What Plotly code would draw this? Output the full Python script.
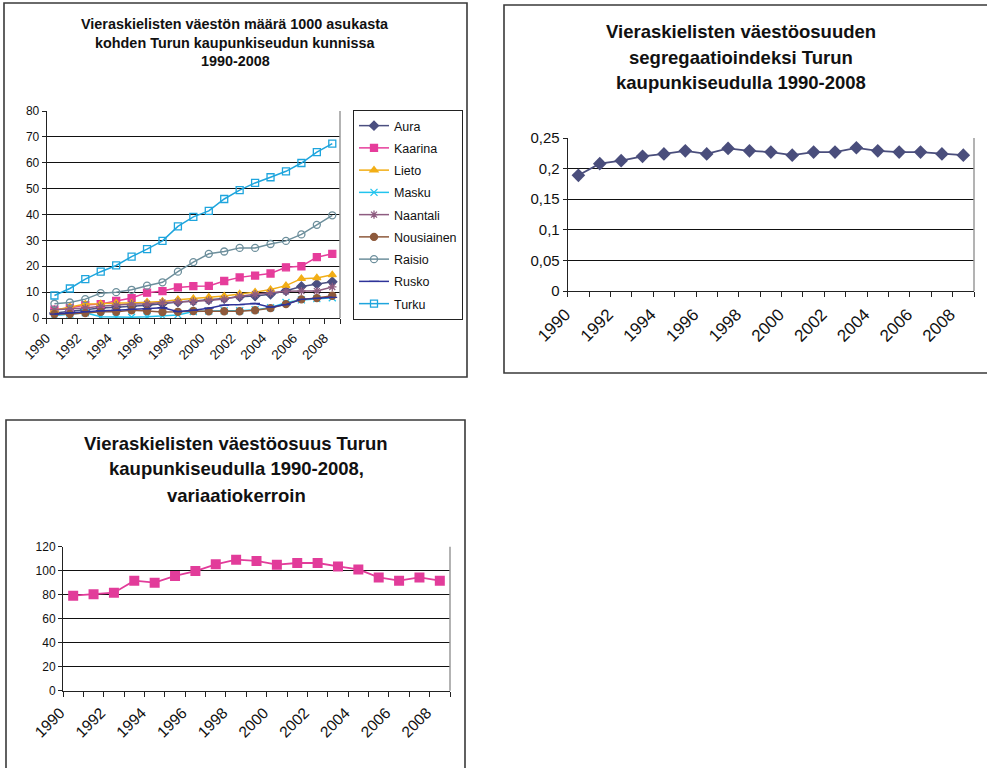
import plotly.graph_objects as go

W, H = 987, 768

years = [1990, 1991, 1992, 1993, 1994, 1995, 1996, 1997, 1998, 1999,
         2000, 2001, 2002, 2003, 2004, 2005, 2006, 2007, 2008]
year_labels = ["1990", "1992", "1994", "1996", "1998", "2000", "2002", "2004", "2006", "2008"]
label_years = [1990, 1992, 1994, 1996, 1998, 2000, 2002, 2004, 2006, 2008]

# Chart 1: foreign-language speakers per 1000 inhabitants
aura = [1.9, 2.6, 3.2, 3.9, 4.2, 4.5, 4.9, 5.5, 6.2, 6.6, 7.0, 7.5, 8.2, 8.5, 9.2, 10.5, 12.2, 13.1, 14.0]
kaarina = [3.2, 3.9, 5.0, 5.4, 6.6, 7.7, 9.8, 10.4, 11.8, 12.3, 12.4, 14.3, 15.7, 16.4, 17.2, 19.6, 20.0, 23.5, 24.8]
lieto = [3.0, 4.3, 5.4, 5.5, 5.8, 5.8, 6.2, 6.4, 7.1, 7.5, 8.1, 8.5, 9.3, 10.0, 11.0, 12.5, 15.2, 15.5, 16.7]
masku = [1.0, 1.5, 2.0, 0.5, 0.3, 0.3, 0.5, 0.8, 1.2, 2.5, 2.7, 2.8, 2.8, 3.2, 4.0, 6.0, 7.0, 7.5, 7.8]
naantali = [3.2, 3.5, 3.9, 4.5, 4.9, 5.4, 5.5, 6.0, 6.2, 6.4, 6.8, 7.3, 8.4, 9.2, 9.8, 10.3, 10.4, 10.4, 12.0]
nousiainen = [1.5, 1.5, 1.9, 2.4, 2.4, 3.0, 2.7, 2.3, 2.4, 2.7, 2.6, 2.6, 2.6, 3.0, 3.8, 5.4, 7.2, 7.7, 8.6]
raisio = [5.5, 6.0, 7.3, 9.6, 10.0, 10.9, 12.5, 13.8, 17.9, 21.6, 24.8, 25.7, 27.1, 27.1, 28.6, 29.8, 32.3, 36.0, 39.7]
rusko = [1.5, 2.0, 2.5, 2.8, 3.0, 3.3, 3.5, 4.0, 2.5, 3.0, 3.8, 5.0, 5.2, 5.6, 4.2, 5.2, 7.2, 7.6, 8.0]
turku = [8.7, 11.4, 15.0, 17.9, 20.3, 23.7, 26.6, 29.8, 35.4, 39.1, 41.4, 46.0, 49.4, 52.2, 54.4, 56.7, 59.9, 64.1, 67.4]

# Chart 2: segregation index
segregation = [0.189, 0.208, 0.213, 0.220, 0.224, 0.229, 0.224, 0.233, 0.229, 0.227,
               0.222, 0.227, 0.227, 0.234, 0.229, 0.227, 0.227, 0.224, 0.222]
seg_ticks = [0, 0.05, 0.1, 0.15, 0.2, 0.25]
seg_ticktext = ["0", "0,05", "0,1", "0,15", "0,2", "0,25"]

# Chart 3: coefficient of variation
variation = [79.2, 80.3, 81.7, 91.7, 90.0, 95.6, 99.7, 105.3, 109.2, 108.1,
             105.0, 106.4, 106.4, 103.6, 101.1, 94.4, 91.7, 94.4, 91.7]

series = [
    ("Aura", aura, "#4B4F80", "diamond"),
    ("Kaarina", kaarina, "#E63D9B", "square"),
    ("Lieto", lieto, "#F2AE16", "triangle-up"),
    ("Masku", masku, "#22C4EE", "x-thin-open"),
    ("Naantali", naantali, "#8E5C80", "asterisk-open"),
    ("Nousiainen", nousiainen, "#8E5A3C", "circle"),
    ("Raisio", raisio, "#6D8F9C", "circle-open"),
    ("Rusko", rusko, "#2E3399", "line-ew-open"),
    ("Turku", turku, "#1EA5DD", "square-open"),
]

FONT = "Liberation Sans, Arial, sans-serif"

fig = go.Figure()

for i, (name, vals, col, sym) in enumerate(series):
    fig.add_trace(go.Scatter(
        x=years, y=vals, name=name, mode="lines+markers",
        line=dict(color=col, width=1.5),
        marker=dict(symbol=sym, size=7, color=col, line=dict(color=col, width=1.3)),
        xaxis="x", yaxis="y", legendgroup=name,
    ))

fig.add_trace(go.Scatter(
    x=years, y=segregation, mode="lines+markers", showlegend=False,
    line=dict(color="#4A4E7C", width=1.8),
    marker=dict(symbol="diamond", size=10.5, color="#4A4E7C"),
    xaxis="x2", yaxis="y2",
))

fig.add_trace(go.Scatter(
    x=years, y=variation, mode="lines+markers", showlegend=False,
    line=dict(color="#E23C9A", width=1.8),
    marker=dict(symbol="square", size=10, color="#E23C9A"),
    xaxis="x3", yaxis="y3",
))


def px_x(v):
    return v / W


def px_y(v):
    return 1 - v / H


def xaxis_common(domain, anchor, fsize, shift):
    return dict(
        domain=domain, anchor=anchor, type="linear", range=[1989.5, 2008.5],
        tickmode="array", tickvals=label_years, ticktext=year_labels,
        tickangle=-45, ticks="outside", ticklen=6, tickcolor="rgba(0,0,0,0)",
        ticklabelshift=shift,
        showline=True, linecolor="#222", linewidth=1, showgrid=False, zeroline=False,
        tickfont=dict(family=FONT, size=fsize, color="#111"),
        minor=dict(tick0=1989.5, dtick=1, ticks="outside", ticklen=5,
                   tickcolor="#222", tickwidth=1, showgrid=False),
        fixedrange=True, automargin=False,
    )


def yaxis_common(domain, anchor, rng, fsize, **kw):
    d = dict(
        domain=domain, anchor=anchor, range=rng,
        ticks="outside", ticklen=4, tickcolor="#222",
        showline=True, linecolor="#222", linewidth=1,
        showgrid=True, gridcolor="#111", gridwidth=1, zeroline=False,
        tickfont=dict(family=FONT, size=fsize, color="#111"),
        fixedrange=True, automargin=False,
    )
    d.update(kw)
    return d


fig.update_layout(
    width=W, height=H, autosize=False,
    margin=dict(l=0, r=0, t=0, b=0, pad=0, autoexpand=False),
    paper_bgcolor="white", plot_bgcolor="white",
    font=dict(family=FONT, color="#111"),
    xaxis=xaxis_common([px_x(46.7), px_x(340)], "y", 13.5, -8),
    yaxis=yaxis_common([px_y(318), px_y(111)], "x", [0, 80], 12, dtick=10, tick0=0),
    xaxis2=xaxis_common([px_x(567.7), px_x(974)], "y2", 17, -13),
    yaxis2=yaxis_common([px_y(291), px_y(138)], "x2", [0, 0.25], 15,
                        tickmode="array", tickvals=seg_ticks, ticktext=seg_ticktext),
    xaxis3=xaxis_common([px_x(63), px_x(450)], "y3", 15.5, -13),
    yaxis3=yaxis_common([px_y(690.7), px_y(546.7)], "x3", [0, 120], 12, dtick=20, tick0=0),
    legend=dict(
        x=px_x(353), y=px_y(110), xanchor="left", yanchor="top",
        bordercolor="#222", borderwidth=1, bgcolor="white",
        font=dict(family=FONT, size=12.5, color="#111"),
        tracegroupgap=3, traceorder="grouped",
    ),
    showlegend=True,
)

shapes = []
# chart boxes
for (x0, y0, x1, y1) in [(4, 3, 467, 377), (504, 5, 995, 373), (6, 420, 465, 775)]:
    shapes.append(dict(type="rect", xref="paper", yref="paper",
                       x0=px_x(x0), x1=px_x(x1), y0=px_y(y1), y1=px_y(y0),
                       line=dict(color="#3a3a3a", width=1.6), fillcolor="rgba(0,0,0,0)"))
# gray right border of plot areas
for ax in ["", "2", "3"]:
    shapes.append(dict(type="line", xref=f"x{ax} domain", yref=f"y{ax} domain",
                       x0=1, x1=1, y0=0, y1=1, line=dict(color="#9a9a9a", width=1.5)))
fig.update_layout(shapes=shapes)

annotations = []
titles = [
    (235, [(24, "Vieraskielisten väestön määrä 1000 asukasta"),
           (43, "kohden Turun kaupunkiseudun kunnissa"),
           (61, "1990-2008")], 14.4),
    (741, [(31, "Vieraskielisten väestöosuuden"),
           (57, "segregaatioindeksi Turun"),
           (82, "kaupunkiseudulla 1990-2008")], 18.5),
    (236, [(443, "Vieraskielisten väestöosuus Turun"),
           (468, "kaupunkiseudulla 1990-2008,"),
           (495, "variaatiokerroin")], 18.5),
]
for cx, lines, fs in titles:
    for yy, txt in lines:
        annotations.append(dict(
            xref="paper", yref="paper", x=px_x(cx), y=px_y(yy),
            xanchor="center", yanchor="middle", showarrow=False,
            text=f"<b>{txt}</b>", font=dict(family=FONT, size=fs, color="#111"),
        ))
fig.update_layout(annotations=annotations)

fig.write_html(
    "out.html",
    config={"displayModeBar": False},
    post_script="document.body.style.margin='0';document.body.style.padding='0';"
                "document.body.style.overflow='hidden';",
)
